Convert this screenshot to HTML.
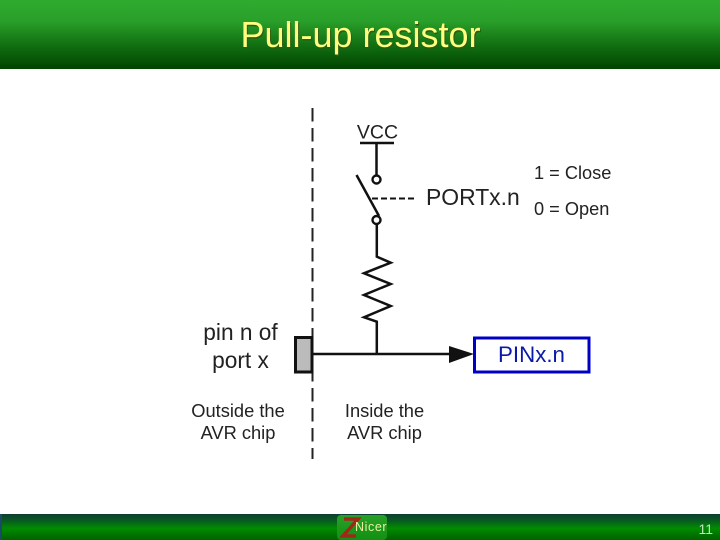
<!DOCTYPE html>
<html>
<head>
<meta charset="utf-8">
<style>
html,body{margin:0;padding:0;background:#fff;}
svg{display:block;}
text{font-family:"Liberation Sans",Arial,sans-serif;}
</style>
</head>
<body>
<svg width="720" height="540" viewBox="0 0 720 540" xmlns="http://www.w3.org/2000/svg">
<defs>
<linearGradient id="h" x1="0" y1="0" x2="0" y2="1">
<stop offset="0" stop-color="#2fab2f"/>
<stop offset="0.3" stop-color="#2aa02a"/>
<stop offset="0.65" stop-color="#127012"/>
<stop offset="1" stop-color="#004400"/>
</linearGradient>
<linearGradient id="f" x1="0" y1="0" x2="0" y2="1">
<stop offset="0" stop-color="#0f3d33"/>
<stop offset="0.25" stop-color="#085a20"/>
<stop offset="0.55" stop-color="#008c00"/>
<stop offset="1" stop-color="#006000"/>
</linearGradient>
<linearGradient id="l" x1="0" y1="0" x2="0" y2="1">
<stop offset="0" stop-color="#28a028"/>
<stop offset="1" stop-color="#129012"/>
</linearGradient>
</defs>

<rect width="720" height="540" fill="#fff"/>
<rect width="720" height="69" fill="url(#h)"/>
<text x="361.5" y="48.5" font-size="36" text-anchor="middle" fill="#2f5a10">Pull-up resistor</text>
<text x="360.5" y="47" font-size="36" text-anchor="middle" fill="#ffff80">Pull-up resistor</text>

<line x1="312.5" y1="108" x2="312.5" y2="459" stroke="#222" stroke-width="2" stroke-dasharray="13.5 6.5"/>

<text x="377.5" y="138.5" font-size="19.5" text-anchor="middle" fill="#222">VCC</text>
<line x1="360" y1="143" x2="394" y2="143" stroke="#111" stroke-width="2.5"/>
<line x1="376.5" y1="143" x2="376.5" y2="175" stroke="#111" stroke-width="2.5"/>
<circle cx="376.5" cy="179.5" r="4" fill="#fff" stroke="#111" stroke-width="2.4"/>
<line x1="356.5" y1="175" x2="379" y2="216" stroke="#111" stroke-width="2.5"/>
<circle cx="376.5" cy="220" r="4" fill="#fff" stroke="#111" stroke-width="2.4"/>
<line x1="372" y1="198.5" x2="415" y2="198.5" stroke="#111" stroke-width="2" stroke-dasharray="6 3"/>
<text x="426" y="205" font-size="22.9" fill="#222">PORTx.n</text>
<text x="534" y="179" font-size="18.2" fill="#222">1 = Close</text>
<text x="534" y="215" font-size="18.2" fill="#222">0 = Open</text>

<polyline points="376.8,224 376.8,256.7 390.7,262.7 364,273.3 390.7,284 364,295 390.7,306 364,317.3 376.8,321.7 376.8,354" fill="none" stroke="#111" stroke-width="2.5"/>
<line x1="312" y1="354" x2="452" y2="354" stroke="#111" stroke-width="2.5"/>
<polygon points="449,346 474,354 449,363" fill="#111"/>
<rect x="295.5" y="337.5" width="16.5" height="34.5" fill="#bbb" stroke="#111" stroke-width="3"/>

<rect x="474.5" y="338" width="114.5" height="34" fill="#fff" stroke="#0000c4" stroke-width="3"/>
<text x="531.5" y="362" font-size="22.3" text-anchor="middle" fill="#0a1aa8">PINx.n</text>

<text x="240.5" y="340" font-size="22.7" text-anchor="middle" fill="#222">pin n of</text>
<text x="240.5" y="368" font-size="22.7" text-anchor="middle" fill="#222">port x</text>
<text x="238" y="417" font-size="18.3" text-anchor="middle" fill="#222">Outside the</text>
<text x="238" y="439" font-size="18.3" text-anchor="middle" fill="#222">AVR chip</text>
<text x="384.5" y="417" font-size="18.3" text-anchor="middle" fill="#222">Inside the</text>
<text x="384.5" y="439" font-size="18.3" text-anchor="middle" fill="#222">AVR chip</text>

<rect y="514" width="720" height="26" fill="url(#f)"/>
<rect y="514" width="2" height="26" fill="#1a4a66"/>
<rect x="337" y="515" width="50" height="25" rx="4" fill="url(#l)"/>
<polyline points="344,519 358,519 343,536 356,536" fill="none" stroke="#a02818" stroke-width="3.5"/>
<text x="355" y="531" font-size="12.5" letter-spacing="0.6" fill="#e8f0a0">Nicer</text>
<text x="698.5" y="534" font-size="14" fill="#b8e8b8">11</text>
</svg>
</body>
</html>
